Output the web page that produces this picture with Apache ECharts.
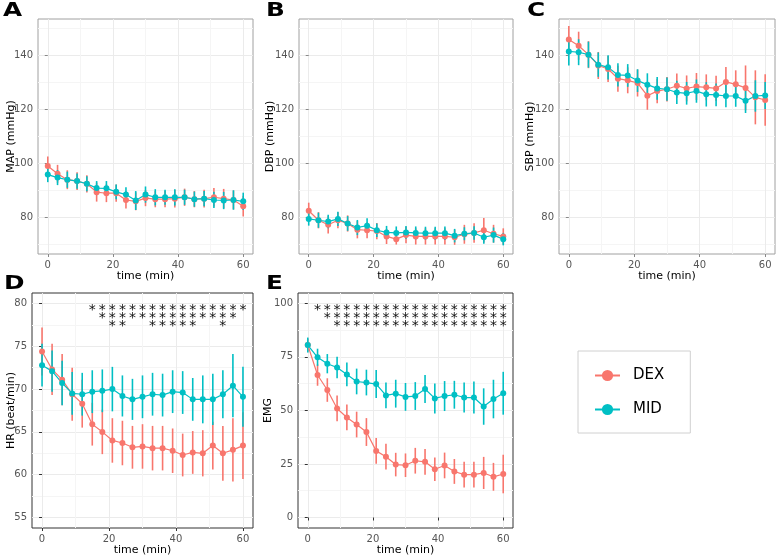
<!DOCTYPE html>
<html>
<head>
<meta charset="utf-8">
<title>MAP / DBP / SBP / HR / EMG</title>
<script src="https://cdn.jsdelivr.net/npm/echarts@6/dist/echarts.min.js"></script>
<style>
  html, body { margin: 0; padding: 0; background: #fff; }
  #main { width: 777px; height: 557px; }
</style>
</head>
<body>
<div id="main"></div>
<script>
// time points (min)
var time = [0, 3, 6, 9, 12, 15, 18, 21, 24, 27, 30, 33, 36, 39, 42, 45, 48, 51, 54, 57, 60];

// means
var mapDex = [99.1, 96.2, 94, 93.5, 92.5, 89.4, 89, 89, 86.5, 86, 87.2, 86.8, 86.8, 87, 87.5, 86.8, 87, 87.5, 87, 86.5, 84.2];
var mapMid = [95.9, 94.8, 94, 93.5, 92.5, 90.9, 90.8, 89.5, 88.5, 86.3, 88.5, 87.5, 87.5, 87.5, 87.5, 86.8, 87, 86.5, 86.3, 86.5, 86];
var dbpDex = [82.5, 79, 77.3, 79, 77.8, 75.5, 75.3, 75, 73, 72, 73.5, 73, 73, 73, 73, 72.7, 73.8, 74.3, 75.3, 74, 73];
var dbpMid = [79.5, 79, 78.5, 79.5, 77.8, 76.3, 77, 75.3, 74.5, 74.3, 74.5, 74.3, 74.2, 74.2, 74.2, 73.3, 74, 74.3, 72.7, 73.5, 72];
var sbpDex = [145.9, 143.6, 140.3, 136.3, 135, 131.4, 130.8, 129.8, 125.1, 126.8, 127.5, 128.8, 127.8, 128.5, 128.2, 127.8, 130.2, 129.3, 128, 124.5, 123.5];
var sbpMid = [141.5, 141.2, 140.3, 136.6, 135.6, 132.8, 132.6, 130.7, 129.2, 127.8, 127.5, 126.3, 126, 126.8, 125.6, 125.4, 125, 125, 123.2, 125, 125.2];
var hrDex = [74.4, 72.3, 71.1, 69.4, 68.3, 65.9, 65, 64, 63.7, 63.2, 63.3, 63.1, 63.1, 62.8, 62.3, 62.6, 62.5, 63.4, 62.5, 62.9, 63.4];
var hrMid = [72.8, 72.1, 70.7, 69.5, 69.4, 69.7, 69.8, 70, 69.2, 68.8, 69.1, 69.4, 69.3, 69.7, 69.6, 68.8, 68.8, 68.8, 69.4, 70.4, 69.1];
var emgDex = [80.5, 66.5, 59.5, 50.9, 46.7, 43.4, 39.9, 31.1, 28.4, 24.7, 24.4, 26.5, 26, 22.5, 24.3, 21.5, 20, 20, 20.8, 19, 20.3];
var emgMid = [80.5, 74.8, 71.8, 70, 66.8, 63.5, 63, 62.3, 57, 57.8, 56.3, 56.7, 60, 55.6, 56.7, 57.3, 56, 56, 51.8, 55.3, 58];

// error bar half widths
var mapDexErr = [3.5, 3.3, 3.5, 3.3, 3.2, 3.5, 3.3, 3.2, 3.2, 3.3, 3, 3, 3, 3.3, 3.2, 3, 3.3, 3.4, 3.6, 3.5, 3.8];
var mapMidErr = [2.8, 2.8, 3, 2.8, 2.8, 2.6, 2.7, 2.7, 2.7, 3.5, 3, 3, 2.8, 3, 2.8, 2.8, 2.8, 3, 3.2, 3.6, 3.2];
var dbpDexErr = [3, 3, 3.2, 3, 3, 3.2, 3, 3, 2.8, 2, 3, 3, 3, 3, 3, 2.8, 3.5, 3.6, 4.5, 3.3, 3];
var dbpMidErr = [2.5, 2.8, 2.5, 2.6, 2.7, 2.8, 2.7, 2.5, 2.4, 2.4, 2.4, 2.4, 2.4, 2.4, 2.5, 2.5, 2.4, 2.5, 2.4, 2.8, 2.3];
var sbpDexErr = [5, 5.2, 5, 5, 4.8, 4.8, 4.8, 5, 5.2, 4.5, 4.5, 4.5, 4.8, 5, 4.8, 4.7, 5.5, 5.2, 8.3, 10, 9.5];
var sbpMidErr = [5.2, 4.8, 4.8, 4.5, 4.5, 4.3, 4.2, 4.2, 4.2, 4.2, 4.3, 4.3, 4.2, 4.3, 4.5, 4.2, 4.2, 4, 4.5, 5.8, 5];
var hrDexErr = [2.8, 3, 3, 3.1, 2.8, 2.5, 2.6, 2.6, 2.6, 2.5, 2.6, 2.6, 2.6, 2.6, 2.5, 2.5, 2.7, 2.8, 3.2, 3.7, 3.9];
var hrMidErr = [2.5, 2.4, 2.6, 2.5, 2.5, 2.5, 2.5, 2.6, 2.4, 2.4, 2.5, 2.5, 2.5, 2.5, 2.5, 2.5, 2.8, 3, 2.8, 3.7, 3.5];
var emgDexErr = [3, 5, 5.5, 6, 6, 6, 6.5, 6, 6, 5.5, 5.5, 6, 6, 5.5, 6, 5.8, 6, 6, 7.5, 6.5, 9];
var emgMidErr = [3.5, 4, 4.5, 5, 5.5, 6, 6, 6.5, 6, 6.5, 6.5, 6.5, 6.5, 7, 7, 6.5, 7, 7.5, 8.5, 9, 10];

// significance stars (number of * per time point)
var starsHr = [0, 0, 0, 0, 0, 1, 2, 3, 3, 2, 2, 3, 3, 3, 3, 3, 2, 2, 3, 2, 1];
var starsEmg = [0, 1, 2, 3, 3, 3, 3, 3, 3, 3, 3, 3, 3, 3, 3, 3, 3, 3, 3, 3, 3];

// tick labels
var xTicks = [0, 20, 40, 60];
var xMinor = [10, 30, 50];
var bpTicks = [80, 100, 120, 140];
var bpMinor = [70, 90, 110, 130, 150];
var hrTicks = [55, 60, 65, 70, 75, 80];
var hrMinor = [57.5, 62.5, 67.5, 72.5, 77.5];
var emgTicks = [0, 25, 50, 75, 100];
var emgMinor = [12.5, 37.5, 62.5, 87.5];

var RED = '#F8766D', TEAL = '#00BFC4';
var FONT = '"DejaVu Sans", sans-serif';

var panels = [
  { tag: 'A', name: 'MAP (mmHg)', dex: mapDex, mid: mapMid, dexE: mapDexErr, midE: mapMidErr,
    ticks: bpTicks, minor: bpMinor, ymin: 66.5, ymax: 153.5,
    left: 38, top: 19, width: 215, height: 235, border: '#a0a0a0', gap: 21, xgap: 17, tagX: 3, tagY: 2 },
  { tag: 'B', name: 'DBP (mmHg)', dex: dbpDex, mid: dbpMid, dexE: dbpDexErr, midE: dbpMidErr,
    ticks: bpTicks, minor: bpMinor, ymin: 66.5, ymax: 153.5,
    left: 299, top: 19, width: 214, height: 235, border: '#a0a0a0', gap: 23.5, xgap: 17, tagX: 266, tagY: 2 },
  { tag: 'C', name: 'SBP (mmHg)', dex: sbpDex, mid: sbpMid, dexE: sbpDexErr, midE: sbpMidErr,
    ticks: bpTicks, minor: bpMinor, ymin: 66.5, ymax: 153.5,
    left: 559, top: 19, width: 216, height: 235, border: '#a0a0a0', gap: 23.5, xgap: 17, tagX: 527, tagY: 2 },
  { tag: 'D', name: 'HR (beat/min)', dex: hrDex, mid: hrMid, dexE: hrDexErr, midE: hrMidErr,
    ticks: hrTicks, minor: hrMinor, ymin: 53.77, ymax: 81.23, stars: starsHr,
    left: 32, top: 293, width: 221, height: 236, border: '#333', gap: 15, xgap: 17, tagX: 4, tagY: 275 },
  { tag: 'E', name: 'EMG', dex: emgDex, mid: emgMid, dexE: emgDexErr, midE: emgMidErr,
    ticks: emgTicks, minor: emgMinor, ymin: -4.9, ymax: 104.8, stars: starsEmg,
    left: 298, top: 293, width: 215, height: 236, border: '#333', gap: 24, xgap: 17, tagX: 266, tagY: 275 }
];

function pairs(ys) { return time.map(function (t, i) { return [t, ys[i]]; }); }
function bars(ys, es) { return time.map(function (t, i) { return [t, ys[i] - es[i], ys[i] + es[i]]; }); }

function errSeries(idx, data, color) {
  return {
    type: 'custom', name: 'err' + idx + color, xAxisIndex: idx * 2, yAxisIndex: idx * 2,
    data: data, silent: true,
    renderItem: function (params, api) {
      var a = api.coord([api.value(0), api.value(1)]);
      var b = api.coord([api.value(0), api.value(2)]);
      return { type: 'line', shape: { x1: a[0], y1: a[1], x2: b[0], y2: b[1] },
               style: { stroke: color, lineWidth: 1.6 } };
    }
  };
}

var grid = [], xAxis = [], yAxis = [], series = [], graphic = [];

panels.forEach(function (p, i) {
  grid.push({ left: p.left, top: p.top, width: p.width, height: p.height,
              show: true, borderColor: p.border, borderWidth: 1, backgroundColor: '#fff' });
  var dark = p.border === '#333';
  xAxis.push({
    type: 'value', gridIndex: i, min: -3, max: 63,
    name: 'time (min)', nameLocation: 'middle', nameGap: p.xgap, nameMoveOverlap: false,
    nameTextStyle: { color: '#000', fontSize: 11, fontFamily: FONT },
    axisLine: { show: false },
    axisTick: { show: true, length: 3, customValues: xTicks, lineStyle: { color: dark ? '#333' : '#888' } },
    axisLabel: { customValues: xTicks, margin: 6, color: '#555', fontSize: 10, fontFamily: FONT },
    splitLine: { show: true, customValues: xTicks, lineStyle: { color: '#ebebeb', width: 1 } }
  });
  xAxis.push({
    type: 'value', gridIndex: i, min: -3, max: 63,
    axisLine: { show: false }, axisLabel: { show: false },
    axisTick: { show: false, customValues: xMinor },
    splitLine: { show: true, customValues: xMinor, lineStyle: { color: '#f5f5f5', width: 1 } }
  });
  yAxis.push({
    type: 'value', gridIndex: i, min: p.ymin, max: p.ymax,
    name: p.name, nameLocation: 'middle', nameGap: p.gap, nameMoveOverlap: false,
    nameTextStyle: { color: '#000', fontSize: 11, fontFamily: FONT },
    axisLine: { show: false },
    axisTick: { show: true, length: 3, customValues: p.ticks, lineStyle: { color: dark ? '#333' : '#888' } },
    axisLabel: { customValues: p.ticks, margin: 5, color: '#555', fontSize: 10, fontFamily: FONT },
    splitLine: { show: true, customValues: p.ticks, lineStyle: { color: '#ebebeb', width: 1 } }
  });
  yAxis.push({
    type: 'value', gridIndex: i, min: p.ymin, max: p.ymax,
    axisLine: { show: false }, axisLabel: { show: false },
    axisTick: { show: false, customValues: p.minor },
    splitLine: { show: true, customValues: p.minor, lineStyle: { color: '#f5f5f5', width: 1 } }
  });

  series.push(errSeries(i, bars(p.dex, p.dexE), RED));
  series.push({
    type: 'line', name: 'DEX', xAxisIndex: i * 2, yAxisIndex: i * 2, data: pairs(p.dex),
    symbol: 'circle', symbolSize: 6, showSymbol: true,
    lineStyle: { color: RED, width: 1.2 }, itemStyle: { color: RED }, animation: false
  });
  series.push(errSeries(i, bars(p.mid, p.midE), TEAL));
  series.push({
    type: 'line', name: 'MID', xAxisIndex: i * 2, yAxisIndex: i * 2, data: pairs(p.mid),
    symbol: 'circle', symbolSize: 6, showSymbol: true,
    lineStyle: { color: TEAL, width: 1.2 }, itemStyle: { color: TEAL }, animation: false
  });

  if (p.stars) {
    series.push({
      type: 'custom', name: 'stars' + i, xAxisIndex: i * 2, yAxisIndex: i * 2, silent: true,
      data: time.map(function (t, k) { return [t, p.stars[k]]; }),
      renderItem: function (params, api) {
        var n = api.value(1);
        var x = api.coord([api.value(0), 0])[0];
        var top = params.coordSys.y;
        var kids = [];
        for (var r = 0; r < n; r++) {
          kids.push({ type: 'text', x: x, y: top + 13.3 + r * 8.3 + 3.8,
            style: { text: '*', fill: '#111', fontSize: 14, fontFamily: FONT,
                     align: 'center', verticalAlign: 'middle' } });
        }
        return { type: 'group', children: kids };
      }
    });
  }

  graphic.push({ type: 'text', x: p.tagX, y: p.tagY, scaleX: 1.3,
    style: { text: p.tag, fill: '#000', fontSize: 19, fontWeight: 'bold', fontFamily: FONT,
             verticalAlign: 'top' } });
});

var chart = echarts.init(document.getElementById('main'), null, { renderer: 'canvas' });
chart.setOption({
  animation: false,
  backgroundColor: '#fff',
  grid: grid,
  xAxis: xAxis,
  yAxis: yAxis,
  series: series,
  graphic: graphic,
  legend: {
    data: ['DEX', 'MID'], orient: 'vertical', left: 578, top: 351,
    padding: [17, 26, 16, 16], itemGap: 19, itemWidth: 25, itemHeight: 14,
    borderColor: '#d0d0d0', borderWidth: 1,
    textStyle: { color: '#000', fontSize: 15, fontFamily: FONT, padding: [0, 0, 0, 8] }
  }
});
</script>
</body>
</html>
